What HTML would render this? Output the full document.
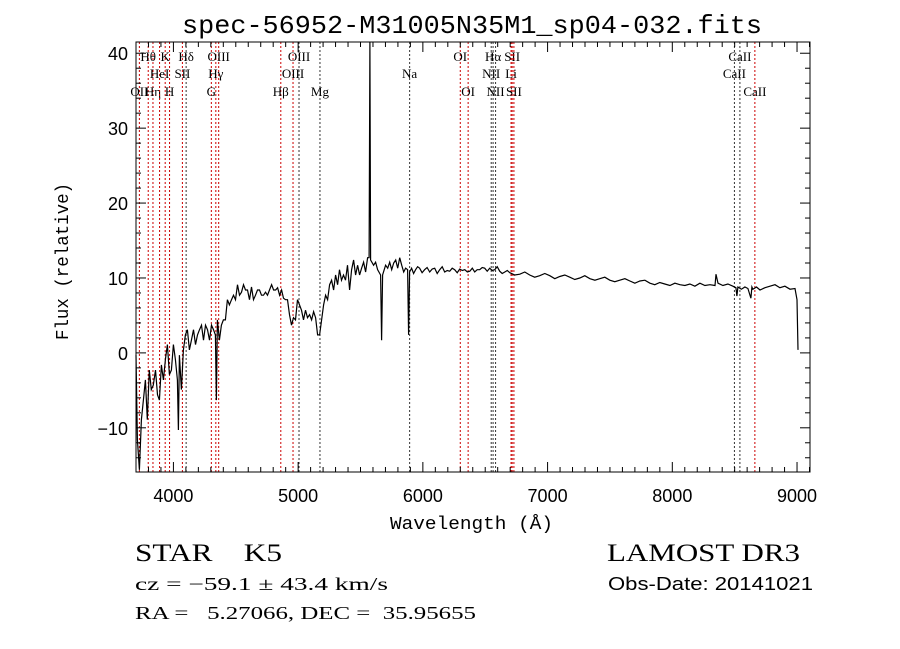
<!DOCTYPE html>
<html><head><meta charset="utf-8"><style>
html,body{margin:0;padding:0;background:#fff;width:900px;height:649px;overflow:hidden}
svg{display:block}
text{fill:#000}
</style></head><body>
<svg id="chart" width="900" height="649" viewBox="0 0 900 649" xmlns="http://www.w3.org/2000/svg">
<rect width="900" height="649" fill="#fff"/>
<text x="182" y="33" font-family="Liberation Mono, monospace" font-size="26" textLength="580" lengthAdjust="spacingAndGlyphs">spec-56952-M31005N35M1_sp04-032.fits</text>
<g id="lines"></g>
<g id="ticks"></g>
<path id="spec" fill="none" stroke="#000" stroke-width="1.2"/>
<rect x="136" y="42" width="674" height="430" fill="none" stroke="#000" stroke-width="1"/>
<text x="390" y="529" font-family="Liberation Mono, monospace" font-size="18" textLength="163" lengthAdjust="spacingAndGlyphs">Wavelength (Å)</text>
<text transform="translate(68,340) rotate(-90)" x="0" y="0" font-family="Liberation Mono, monospace" font-size="18" textLength="157" lengthAdjust="spacingAndGlyphs">Flux (relative)</text>
<text x="135" y="561" font-family="Liberation Serif, serif" font-size="25" xml:space="preserve" textLength="147" lengthAdjust="spacingAndGlyphs">STAR    K5</text>
<text x="607" y="561" font-family="Liberation Serif, serif" font-size="25" textLength="193" lengthAdjust="spacingAndGlyphs">LAMOST DR3</text>
<text x="135" y="590" font-family="Liberation Serif, serif" font-size="18" textLength="253" lengthAdjust="spacingAndGlyphs">cz = −59.1 ± 43.4 km/s</text>
<text x="608" y="590" font-family="Liberation Sans, sans-serif" font-size="18" textLength="205" lengthAdjust="spacingAndGlyphs">Obs-Date: 20141021</text>
<text x="135" y="619" font-family="Liberation Serif, serif" font-size="18" xml:space="preserve" textLength="341" lengthAdjust="spacingAndGlyphs">RA =   5.27066, DEC =  35.95655</text>
</svg>
<script>
const wave=[3700,3711,3727,3743,3759,3775,3791,3807,3823,3839,3856,3872,3888,3904,3920,3936,3952,3968,3984,4000,4016,4032,4040,4048,4064,4080,4096,4112,4128,4144,4161,4177,4193,4209,4225,4241,4257,4273,4289,4305,4321,4337,4345,4353,4369,4385,4401,4417,4433,4449,4466,4482,4498,4514,4530,4546,4562,4578,4594,4610,4626,4642,4658,4674,4690,4706,4722,4738,4754,4770,4787,4803,4819,4835,4851,4867,4883,4899,4915,4931,4947,4963,4979,4995,5011,5027,5043,5059,5075,5092,5108,5124,5140,5156,5172,5188,5204,5220,5236,5252,5268,5284,5300,5316,5332,5348,5364,5380,5396,5413,5429,5445,5461,5477,5493,5509,5525,5541,5557,5569,5575,5581,5605,5621,5637,5661,5669,5677,5701,5718,5734,5750,5766,5782,5798,5814,5830,5846,5862,5878,5886,
5894,5910,5926,5942,5958,5974,5994,6014,6034,6055,6075,6095,6115,6135,6155,6175,6195,6215,6235,6255,6275,6295,6316,6336,6356,6376,6396,6416,6436,6456,6476,6496,6516,6536,6556,6576,6596,6616,6636,6657,6677,6697,
6737,6777,6817,6857,6897,6937,6978,7018,7058,7098,7138,7178,7218,7258,7298,7339,7379,7419,7459,7499,7539,7579,7620,7660,7700,7740,7780,7820,7860,7900,7940,7981,8021,8061,8101,8141,8181,8221,8261,8302,
8342,8350,8366,8406,8446,8486,8510,8518,8526,8554,8582,8606,8630,8638,8646,8675,8703,8743,8783,8823,8863,8903,8944,8984,9000,9008];
const flux=[-0.3,-11.6,-15.6,-8.9,-6.3,-3.6,-8.9,-2.3,-4.9,-4.3,-2.3,-5.6,-6.3,-1.6,-3.6,-0.9,1.1,-2.9,-2.3,1.1,-0.9,-3.6,-10.3,-0.3,-4.9,0.4,2.4,3.1,0.4,1.7,3.1,1.1,2.4,3.1,3.7,1.7,3.7,3.1,1.7,3.7,3.1,2.4,-6.3,4.4,1.7,3.7,4.4,4.4,7.1,6.4,7.1,7.7,7.1,9.1,7.7,8.1,9.1,8.4,8.4,7.1,8.8,7.1,7.7,8.4,8.4,7.7,7.7,8.1,7.7,8.4,9.1,8.4,8.4,8.7,7.7,8.4,7.3,7.1,7.1,5.1,3.7,4.7,4.4,7.1,6.4,5.7,4.4,5.7,4.7,5.1,4.4,5.5,4.7,2.4,2.4,4.4,6.4,7.7,7.1,9.1,9.7,8.4,10.4,9.1,11.1,9.7,10.4,9.7,11.7,8.4,11.1,12.4,10.4,11.7,10.4,11.3,12.1,10.8,12.7,12.7,41.5,12.4,11.7,12.1,11.1,10.4,1.7,10.4,11.7,11.3,12.1,11.1,12.0,12.4,11.3,12.7,11.7,10.8,11.3,11.1,2.4,
10.8,11.3,10.6,11.1,11.5,11.3,10.7,11.1,11.4,10.8,11.2,11.3,10.6,11.1,11.5,10.8,11.0,10.9,11.3,11.1,10.7,11.2,11.0,11.1,10.8,10.9,11.3,10.8,11.1,11.1,11.4,11.3,10.9,11.3,11.0,11.1,11.5,10.9,10.6,10.8,11.0,10.7,
10.4,10.5,10.8,10.4,10.1,10.3,10.6,10.3,9.9,10.2,10.4,10.1,9.8,10.0,10.3,9.9,9.7,9.9,10.1,9.7,9.5,9.7,9.9,9.6,9.3,9.6,9.7,9.3,9.1,9.4,9.2,9.0,9.3,9.1,9.0,9.2,8.9,9.3,9.0,9.1,
9.0,10.5,9.3,9.0,9.2,8.9,8.7,7.6,8.8,8.5,8.8,8.6,7.3,8.8,8.5,8.8,8.4,8.7,8.9,9.1,8.7,8.9,8.5,8.6,7.1,0.4];
const xTicks=[4000,5000,6000,7000,8000,9000];
const yTicks=[-10,0,10,20,30,40];
const lineWaves=[3727,3798,3836,3889,3934,3969,4072,4102,4304,4340,4363,4861,4959,5007,5175,5894,6300,6363,6548,6563,6583,6707,6716,6730,8498,8542,8662];
const lineNames=["OII","Hθ","Hη","HeI","K","H","SII","Hδ","G","Hγ","OIII","Hβ","OIII","OIII","Mg","Na","OI","OI","NII","Hα","NII","Li","SII","SII","CaII","CaII","CaII"];
const lineRows=[2,0,2,1,0,2,1,0,2,1,0,2,1,0,2,1,0,2,1,0,2,1,0,2,1,0,2];
const lineBlack=[0,0,0,0,0,0,0,1,0,0,0,0,0,1,1,1,0,0,1,1,1,0,0,0,1,1,0];

const X0=136,X1=810,Y0=42,Y1=472,XMIN=3700,XMAX=9104,YMIN=-15.9,YMAX=41.5;
const sx=w=>X0+(w-XMIN)/(XMAX-XMIN)*(X1-X0);
const sy=f=>Y1-(f-YMIN)/(YMAX-YMIN)*(Y1-Y0);
const NS="http://www.w3.org/2000/svg";
const svg=document.getElementById('chart');
let d="";
const n=Math.min(wave.length,flux.length);
for(let i=0;i<n;i++){const f=Math.max(YMIN,Math.min(YMAX,flux[i]));d+=(i?"L":"M")+sx(wave[i]).toFixed(1)+","+sy(f).toFixed(1);}
document.getElementById('spec').setAttribute('d',d);

const lg=document.getElementById('lines');
const rowY=[61,78,96];
for(let i=0;i<lineWaves.length;i++){
  const x=sx(lineWaves[i]);
  const l=document.createElementNS(NS,'line');
  
  
  l.setAttribute('x1',x);l.setAttribute('x2',x);l.setAttribute('y1',Y0);l.setAttribute('y2',Y1);
  l.setAttribute('stroke',lineBlack[i]?'#333':'#c00');l.setAttribute('stroke-width','1');l.setAttribute('stroke-dasharray','2,2');
  lg.appendChild(l);
  const t=document.createElementNS(NS,'text');
  
  
  t.setAttribute('x',x);t.setAttribute('y',rowY[lineRows[i]]);
  t.setAttribute('text-anchor','middle');t.setAttribute('font-family','Liberation Serif, serif');t.setAttribute('font-size','13');
  t.textContent=lineNames[i];
  lg.appendChild(t);
}
const tg=document.getElementById('ticks');
function ln(x1,y1,x2,y2){const l=document.createElementNS(NS,'line');l.setAttribute('x1',x1);l.setAttribute('y1',y1);l.setAttribute('x2',x2);l.setAttribute('y2',y2);l.setAttribute('stroke','#000');l.setAttribute('stroke-width','1');tg.appendChild(l);return l;}
for(let w=3700;w<=XMAX;w+=100){const x=sx(w);const major=w%1000===0;const L=major?10:5;
  const a=ln(x,Y1,x,Y1-L);
  const b=ln(x,Y0,x,Y0+L);}
for(let v=-14;v<=YMAX;v+=2){const y=sy(v);const major=v%10===0;const L=major?10:5;
  const a=ln(X0,y,X0+L,y);
  const b=ln(X1,y,X1-L,y);}
xTicks.forEach(v=>{const t=document.createElementNS(NS,'text');
  
  
  t.setAttribute('x',sx(v));t.setAttribute('y',502);t.setAttribute('text-anchor','middle');t.setAttribute('font-family','Liberation Sans, sans-serif');t.setAttribute('font-size','18');t.textContent=v;svg.appendChild(t);});
yTicks.forEach(v=>{const t=document.createElementNS(NS,'text');
  
  
  t.setAttribute('x',128);t.setAttribute('y',sy(v)+7);t.setAttribute('text-anchor','end');t.setAttribute('font-family','Liberation Sans, sans-serif');t.setAttribute('font-size','18');t.textContent=v<0?'−'+(-v):v;svg.appendChild(t);});
</script>
</body></html>
